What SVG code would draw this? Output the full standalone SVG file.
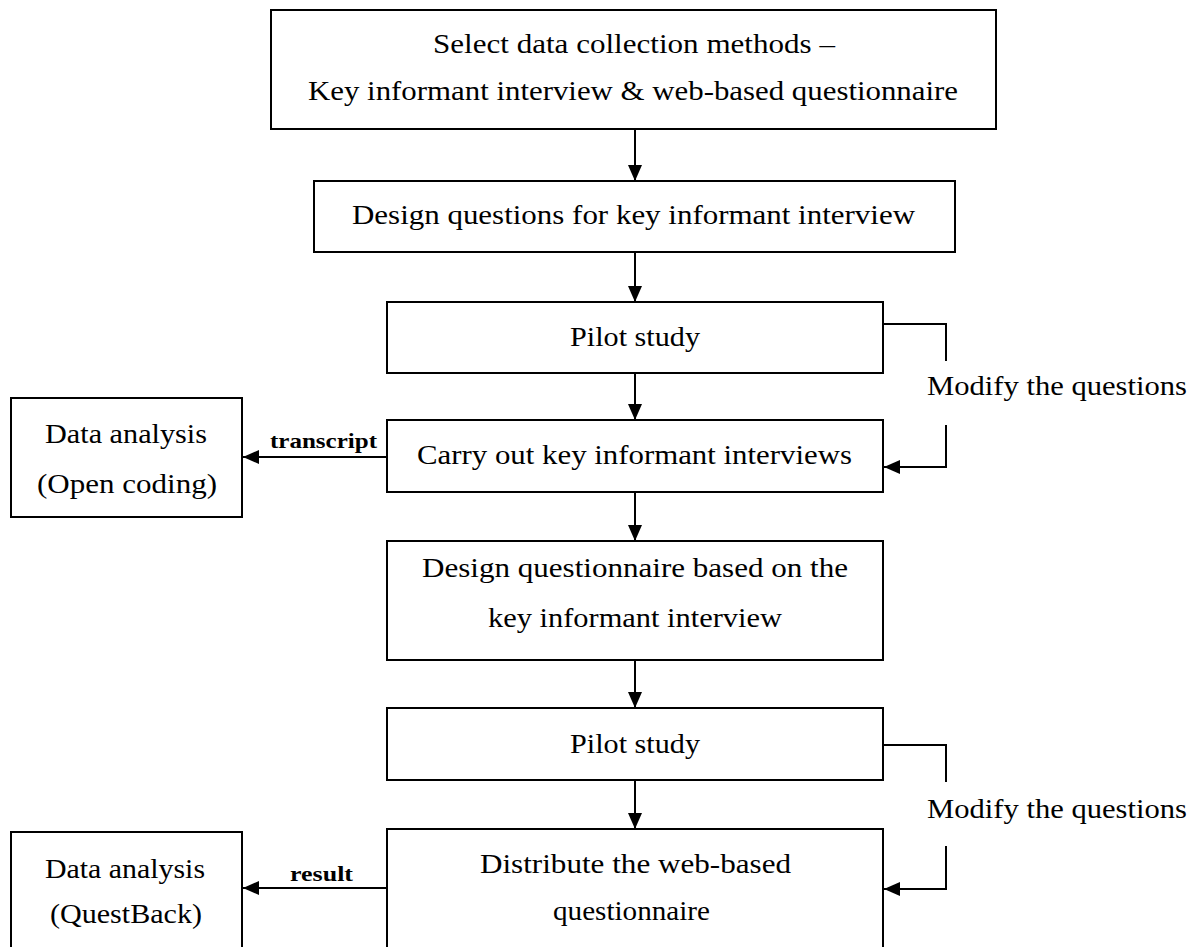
<svg xmlns="http://www.w3.org/2000/svg" width="1201" height="947" viewBox="0 0 1201 947">
<style>
.box{fill:#fff;stroke:#000;stroke-width:2}
.t{font-family:"Liberation Serif","Times New Roman",serif;font-size:27px;fill:#000;text-anchor:middle}
.b{font-family:"Liberation Serif","Times New Roman",serif;font-size:21px;font-weight:bold;fill:#000;text-anchor:middle}
.c{fill:none;stroke:#000;stroke-width:2}
</style>
<defs>
<marker id="ah" markerUnits="userSpaceOnUse" markerWidth="16" markerHeight="14" refX="16" refY="7" orient="auto">
<path d="M0,0 L16,7 L0,14 z" fill="#000"/>
</marker>
</defs>
<rect width="1201" height="947" fill="#fff"/>
<g id="connectors">
<line class="c" x1="635" y1="129" x2="635" y2="181" marker-end="url(#ah)"/>
<line class="c" x1="635" y1="252" x2="635" y2="302" marker-end="url(#ah)"/>
<line class="c" x1="635" y1="373" x2="635" y2="420" marker-end="url(#ah)"/>
<line class="c" x1="635" y1="492" x2="635" y2="541" marker-end="url(#ah)"/>
<line class="c" x1="635" y1="660" x2="635" y2="708" marker-end="url(#ah)"/>
<line class="c" x1="635" y1="780" x2="635" y2="829" marker-end="url(#ah)"/>
<line class="c" x1="387" y1="457" x2="243" y2="457" marker-end="url(#ah)"/>
<line class="c" x1="387" y1="888" x2="243" y2="888" marker-end="url(#ah)"/>
<polyline class="c" points="883,324 946,324 946,361"/>
<polyline class="c" points="946,425 946,467 884,467" marker-end="url(#ah)"/>
<polyline class="c" points="883,745 946,745 946,782"/>
<polyline class="c" points="946,846 946,889 884,889" marker-end="url(#ah)"/>
<text class="b" x="323.5" y="448" textLength="107" lengthAdjust="spacingAndGlyphs">transcript</text>
<text class="b" x="321.5" y="881" textLength="63" lengthAdjust="spacingAndGlyphs">result</text>
<text class="t" x="1057" y="395" textLength="260" lengthAdjust="spacingAndGlyphs">Modify the questions</text>
<text class="t" x="1057" y="818" textLength="260" lengthAdjust="spacingAndGlyphs">Modify the questions</text>
</g>
<g id="n1">
<rect class="box" x="271" y="10" width="725" height="119"/>
<text class="t" x="634" y="53" textLength="402" lengthAdjust="spacingAndGlyphs">Select data collection methods –</text>
<text class="t" x="633" y="100" textLength="650" lengthAdjust="spacingAndGlyphs">Key informant interview &amp; web-based questionnaire</text>
</g>
<g id="n2">
<rect class="box" x="314" y="181" width="641" height="71"/>
<text class="t" x="633.5" y="224" textLength="563" lengthAdjust="spacingAndGlyphs">Design questions for key informant interview</text>
</g>
<g id="n3">
<rect class="box" x="387" y="302" width="496" height="71"/>
<text class="t" x="635" y="346" textLength="130" lengthAdjust="spacingAndGlyphs">Pilot study</text>
</g>
<g id="n4">
<rect class="box" x="387" y="420" width="496" height="72"/>
<text class="t" x="634.5" y="464" textLength="435" lengthAdjust="spacingAndGlyphs">Carry out key informant interviews</text>
</g>
<g id="n5">
<rect class="box" x="387" y="541" width="496" height="119"/>
<text class="t" x="635" y="577" textLength="426" lengthAdjust="spacingAndGlyphs">Design questionnaire based on the</text>
<text class="t" x="635" y="627" textLength="294" lengthAdjust="spacingAndGlyphs">key informant interview</text>
</g>
<g id="n6">
<rect class="box" x="387" y="708" width="496" height="72"/>
<text class="t" x="635" y="753" textLength="130" lengthAdjust="spacingAndGlyphs">Pilot study</text>
</g>
<g id="n7">
<rect class="box" x="387" y="829" width="496" height="140"/>
<text class="t" x="635.5" y="873" textLength="311" lengthAdjust="spacingAndGlyphs">Distribute the web-based</text>
<text class="t" x="631.5" y="920" textLength="157" lengthAdjust="spacingAndGlyphs">questionnaire</text>
</g>
<g id="d1">
<rect class="box" x="11" y="398" width="231" height="119"/>
<text class="t" x="126" y="443" textLength="162" lengthAdjust="spacingAndGlyphs">Data analysis</text>
<text class="t" x="127" y="493" textLength="180" lengthAdjust="spacingAndGlyphs">(Open coding)</text>
</g>
<g id="d2">
<rect class="box" x="11" y="832" width="231" height="140"/>
<text class="t" x="125" y="878" textLength="160" lengthAdjust="spacingAndGlyphs">Data analysis</text>
<text class="t" x="126" y="923" textLength="152" lengthAdjust="spacingAndGlyphs">(QuestBack)</text>
</g>
</svg>
